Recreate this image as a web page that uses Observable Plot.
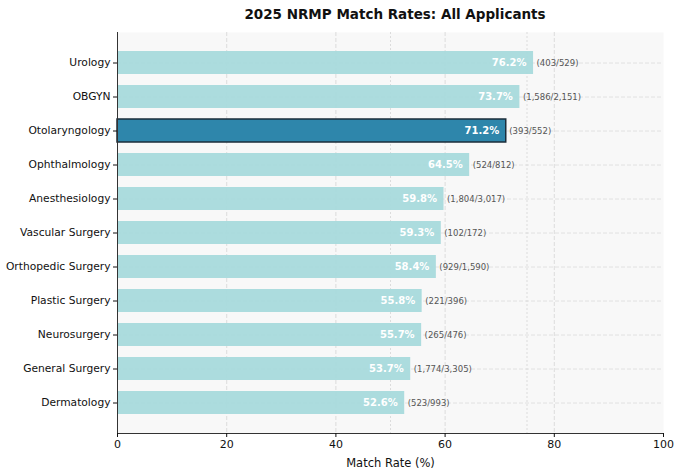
<!DOCTYPE html>
<html>
<head>
<meta charset="utf-8">
<script src="https://cdn.jsdelivr.net/npm/d3@7"></script>
<script src="https://cdn.jsdelivr.net/npm/@observablehq/plot@0.6"></script>
<style>
  body { margin: 0; background: #fff; font-family: "DejaVu Sans", sans-serif; }
  #title { height: 26px; line-height: 28px; font-size: 13.5px; font-weight: bold; text-align: center;
           padding-left: 122px; padding-right: 12px; box-sizing: border-box; width: 680px; color: #111; }
</style>
</head>
<body>
<div id="title">2025 NRMP Match Rates: All Applicants</div>
<div id="chart"></div>
<script>
const specialties = ["Urology","OBGYN","Otolaryngology","Ophthalmology","Anesthesiology","Vascular Surgery","Orthopedic Surgery","Plastic Surgery","Neurosurgery","General Surgery","Dermatology"];
const rates = [76.2,73.7,71.2,64.5,59.8,59.3,58.4,55.8,55.7,53.7,52.6];
const matched = [403,1586,393,524,1804,102,929,221,265,1774,523];
const applicants = [529,2151,552,812,3017,172,1590,396,476,3305,993];
const highlight = "Otolaryngology";
const xTicks = [0,20,40,60,80,100];
const gridTicks = [20,40,60,80];
const refLines = [50,75];

const fmt = d3.format(",");
const data = specialties.map((name, i) => ({
  name, rate: rates[i], matched: matched[i], applicants: applicants[i],
  hl: name === highlight
}));

const chart = Plot.plot({
  width: 680,
  height: 447,
  marginTop: 6,
  marginBottom: 40,
  marginLeft: 117,
  marginRight: 17,
  style: { fontFamily: "DejaVu Sans, sans-serif", fontSize: "10.5px", color: "#111", background: "#fff" },
  x: { domain: [0, 100] },
  y: { domain: specialties, paddingInner: 0.32, paddingOuter: 0.528 },
  marks: [
    Plot.frame({ fill: "#f8f8f8", stroke: null }),
    Plot.gridX(gridTicks, { stroke: "#d4d4d4", strokeOpacity: 0.8, strokeDasharray: "4,2" }),
    Plot.ruleX(refLines, { stroke: "#d4d4d4", strokeOpacity: 0.8, strokeDasharray: "2,2" }),
    Plot.gridY({ stroke: "#d8d8d8", strokeOpacity: 0.7, strokeDasharray: "4,2" }),
    Plot.barX(data.filter(d => !d.hl), { x: "rate", y: "name", fill: "#a8dadc", fillOpacity: 0.95 }),
    Plot.barX(data.filter(d => d.hl), { x: "rate", y: "name", fill: "#2e86ab", stroke: "#1b2d3a", strokeWidth: 1.5 }),
    Plot.text(data, { x: "rate", y: "name", text: d => d.rate.toFixed(1) + "%", dx: -7, textAnchor: "end",
      fill: "white", fontWeight: "bold", fontSize: 10 }),
    Plot.text(data, { x: "rate", y: "name", text: d => `(${fmt(d.matched)}/${fmt(d.applicants)})`, dx: 3,
      textAnchor: "start", fill: "#555", fontSize: 8.5 }),
    Plot.ruleX([0], { stroke: "#333", strokeWidth: 1 }),
    Plot.frame({ anchor: "bottom", stroke: "#333", strokeWidth: 1 }),
    Plot.axisY({ tickSize: 4, tickPadding: 3, label: null, fontSize: 10.7 }),
    Plot.axisX({ ticks: xTicks, tickSize: 4, tickPadding: 3, fontSize: 11, label: null }),
    Plot.axisX({ ticks: [], tickSize: 0, fontSize: 11.5, label: "Match Rate (%)",
      labelAnchor: "center", labelArrow: "none", labelOffset: 33 })
  ]
});
document.getElementById("chart").appendChild(chart);
</script>
</body>
</html>
